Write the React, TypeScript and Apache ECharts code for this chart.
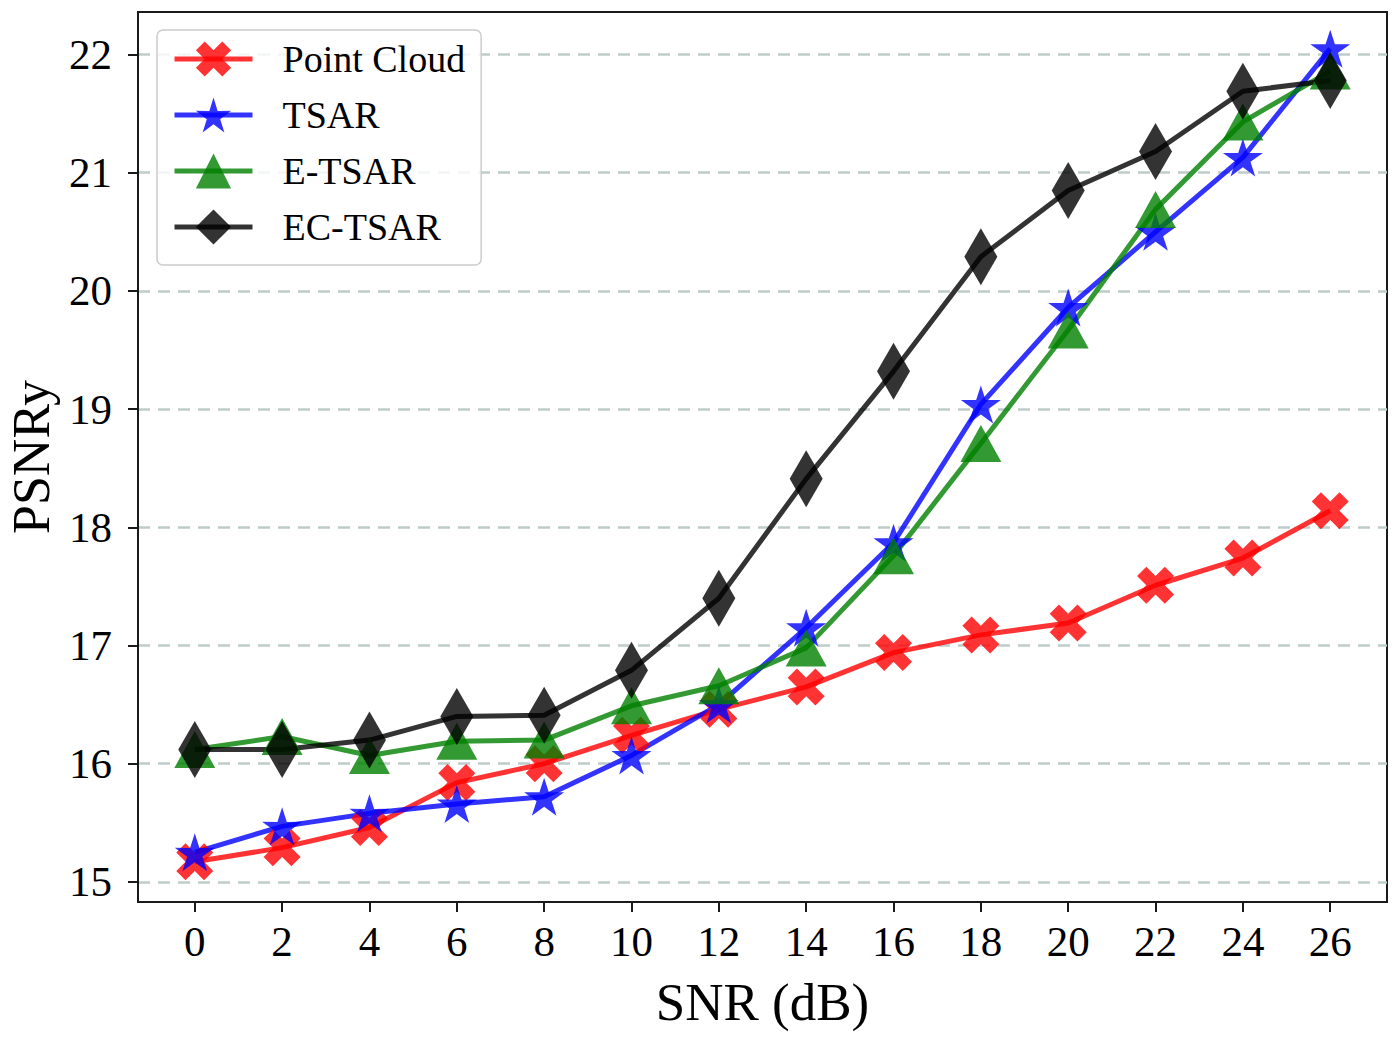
import React, { useEffect, useRef } from "react";
import * as echarts from "echarts";

const snr = [0, 2, 4, 6, 8, 10, 12, 14, 16, 18, 20, 22, 24, 26];
const yTicks = [15, 16, 17, 18, 19, 20, 21, 22];

const pointCloud = [15.17, 15.29, 15.46, 15.84, 16.0, 16.24, 16.46, 16.65, 16.94, 17.09, 17.19, 17.51, 17.74, 18.14];
const tsar = [15.25, 15.47, 15.58, 15.66, 15.72, 16.07, 16.5, 17.15, 17.87, 19.04, 19.86, 20.5, 21.13, 22.05];
const etsar = [16.12, 16.23, 16.07, 16.19, 16.2, 16.49, 16.66, 16.98, 17.76, 18.71, 19.67, 20.69, 21.43, 21.86];
const ectsar = [16.12, 16.12, 16.2, 16.4, 16.41, 16.79, 17.4, 18.41, 19.32, 20.29, 20.85, 21.18, 21.69, 21.78];

const seriesNames = ["Point Cloud", "TSAR", "E-TSAR", "EC-TSAR"];

const X_PATH = "path://M3,0L4,1L3,2L4,3L3,4L2,3L1,4L0,3L1,2L0,1L1,0L2,1Z";
const STAR_PATH =
  "path://M50,0L61.17,34.63L97.55,34.55L68.07,55.87L79.39,90.45L50,69L20.61,90.45L31.93,55.87L2.45,34.55L38.83,34.63Z";

const FONT = "'Liberation Serif', 'DejaVu Serif', serif";

function pairs(vals: number[]) {
  return snr.map((x, i) => [x, vals[i]]);
}

export default function App() {
  const ref = useRef<HTMLDivElement>(null);
  useEffect(() => {
    document.body.style.margin = "0";
    const chart = echarts.init(ref.current!, null, { renderer: "svg" });
    const mk = (
      name: string,
      vals: number[],
      color: string,
      symbol: string,
      size: number | number[]
    ) => ({
      name,
      type: "line",
      data: pairs(vals),
      symbol,
      symbolSize: size,
      showAllSymbol: true,
      lineStyle: { color, width: 5, opacity: 0.8 },
      itemStyle: { color, opacity: 0.8 },
      emphasis: { disabled: true },
    });
    chart.setOption({
      animation: false,
      backgroundColor: "#ffffff",
      grid: {
        left: 138,
        top: 12,
        width: 1249,
        height: 890,
        containLabel: false,
        outerBoundsMode: "none",
        show: true,
        borderColor: "#1a1a1a",
        borderWidth: 2,
        backgroundColor: "transparent",
      },
      legend: {
        data: seriesNames,
        orient: "vertical",
        left: 157,
        top: 30,
        itemWidth: 78,
        itemHeight: 44,
        itemGap: 18,
        padding: [10, 16, 19, 15],
        backgroundColor: "rgba(255,255,255,0.8)",
        borderColor: "#cccccc",
        borderWidth: 1.5,
        borderRadius: 6,
        lineStyle: { width: 5 },
        textStyle: {
          fontFamily: FONT,
          fontSize: 38,
          color: "#000",
          padding: [0, 0, 0, 25],
        },
      },
      xAxis: {
        type: "value",
        min: -1.3,
        max: 27.3,
        name: "SNR (dB)",
        nameLocation: "middle",
        nameGap: 73,
        nameTextStyle: { fontFamily: FONT, fontSize: 53, color: "#000" },
        axisLine: { show: true, onZero: false, lineStyle: { color: "#1a1a1a", width: 2 } },
        axisTick: {
          show: true,
          customValues: snr,
          length: 10,
          lineStyle: { color: "#1a1a1a", width: 2 },
        },
        axisLabel: {
          customValues: snr,
          margin: 18,
          fontFamily: FONT,
          fontSize: 43,
          color: "#000",
        },
        splitLine: { show: false },
      },
      yAxis: {
        type: "value",
        min: 14.83,
        max: 22.36,
        name: "PSNRy",
        nameLocation: "middle",
        nameGap: 82,
        nameTextStyle: { fontFamily: FONT, fontSize: 52, lineHeight: 50, color: "#000" },
        axisLine: { show: true, onZero: false, lineStyle: { color: "#1a1a1a", width: 2 } },
        axisTick: {
          show: true,
          customValues: yTicks,
          length: 10,
          lineStyle: { color: "#1a1a1a", width: 2 },
        },
        axisLabel: {
          customValues: yTicks,
          margin: 26,
          fontFamily: FONT,
          fontSize: 43,
          color: "#000",
        },
        splitLine: {
          show: true,
          lineStyle: { color: "#bfcdca", width: 2.5, type: [12, 8] },
        },
      },
      series: [
        mk("Point Cloud", pointCloud, "#ff0000", X_PATH, 37),
        mk("TSAR", tsar, "#0000ff", STAR_PATH, [40, 38]),
        mk("E-TSAR", etsar, "#008000", "triangle", [41, 37]),
        mk("EC-TSAR", ectsar, "#000000", "diamond", [33, 57]),
      ],
    });
    return () => chart.dispose();
  }, []);
  return (
    <div
      ref={ref}
      style={{ position: "absolute", left: 0, top: 0, width: 1400, height: 1040, background: "#fff" }}
    />
  );
}
